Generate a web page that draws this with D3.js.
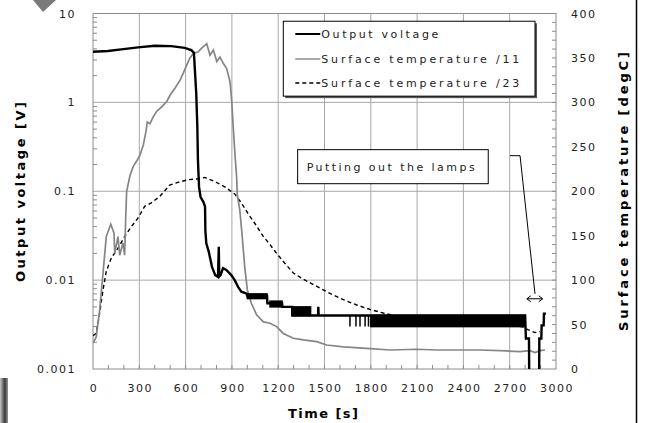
<!DOCTYPE html>
<html lang="en">
<head>
    <meta charset="UTF-8">
    <title>Output voltage and surface temperature</title>
    <script src="https://d3js.org/d3.v7.min.js"></script>
    <style>
        body {
            margin: 0;
            padding: 0;
            background-color: #ffffff;
        }
        svg text {
            font-family: "DejaVu Sans", Arial, sans-serif;
            fill: #222;
        }
        .tick-label {
            font-size: 11px;
            letter-spacing: 1.5px;
        }
        .axis-title {
            font-size: 13px;
            font-weight: bold;
            fill: #000;
        }
        .legend-label {
            font-size: 11px;
        }
    </style>
</head>
<body>
    <div id="chart"></div>

    <script>
        // Output voltage [V] (left, log axis)
        const voltTime = [0, 97, 183, 292, 400, 507, 594, 637, 654, 659, 669, 676, 680, 687, 697, 715, 726, 728, 734, 750, 771, 792, 810, 815, 818, 827, 842, 864, 896, 918, 940, 961, 993, 1000, 1128, 1130, 1225, 1227, 1290, 1292, 1458, 1460, 1462, 2800, 2805, 2825, 2827, 2890, 2892, 2905, 2907, 2920, 2922, 2935];
        const voltValue = [3.71, 3.78, 3.95, 4.16, 4.33, 4.30, 4.11, 3.87, 3.61, 2.51, 1.26, 0.532, 0.224, 0.112, 0.086, 0.076, 0.067, 0.0366, 0.0259, 0.0209, 0.0141, 0.0114, 0.0109, 0.0238, 0.0110, 0.0114, 0.0136, 0.0130, 0.0114, 0.0100, 0.0084, 0.0074, 0.0071, 0.0066, 0.0066, 0.0055, 0.0055, 0.0050, 0.0050, 0.0040, 0.0040, 0.0050, 0.0040, 0.0040, 0.0022, 0.0022, 0.0005, 0.0005, 0.0022, 0.0022, 0.0031, 0.0031, 0.0042, 0.0042];

        // stretches where the voltage flickers between two levels
        const bandStart = [1000, 1147, 1290, 1800];
        const bandEnd = [1128, 1225, 1410, 2800];
        const bandLow = [0.0062, 0.0050, 0.0040, 0.0030];
        const bandHigh = [0.0070, 0.0058, 0.0050, 0.0040];
        const flickerTime = [1665, 1704, 1730, 1763, 1785];

        // Surface temperature /11 [degC] (right axis)
        const temp11Time = [0, 21, 43, 65, 86, 115, 136, 141, 162, 173, 194, 205, 212, 218, 240, 261, 283, 305, 326, 343, 352, 369, 391, 413, 445, 478, 499, 531, 564, 585, 607, 628, 650, 682, 704, 737, 758, 780, 802, 823, 844, 866, 888, 899, 909, 920, 931, 935, 951, 965, 983, 1000, 1026, 1060, 1104, 1147, 1190, 1233, 1298, 1363, 1450, 1514, 1622, 1773, 1924, 2097, 2227, 2378, 2508, 2681, 2767, 2832, 2864, 2896, 2929];
        const temp11Value = [29, 36, 66, 108, 149, 163, 153, 130, 149, 128, 142, 128, 170, 200, 218, 228, 234, 241, 252, 267, 278, 276, 284, 290, 295, 301, 308, 316, 325, 333, 342, 350, 355, 357, 361, 366, 353, 359, 346, 351, 344, 338, 323, 301, 271, 241, 215, 196, 179, 153, 115, 89, 74, 61, 53, 51.5, 47.7, 40, 34.6, 32.7, 30.8, 27, 25, 23.3, 21.4, 22.2, 21.4, 21.4, 21.4, 20.3, 19.5, 20.6, 18.4, 20.6, 21.4];

        // Surface temperature /23 [degC] (right axis)
        const temp23Time = [0, 21, 43, 65, 86, 119, 162, 205, 248, 292, 335, 378, 432, 497, 551, 616, 680, 724, 789, 853, 918, 961, 1004, 1048, 1104, 1147, 1190, 1233, 1298, 1363, 1450, 1536, 1622, 1709, 1795, 1881, 2000, 2200, 2400, 2600, 2778, 2821, 2864, 2896];
        const temp23Value = [37.5, 40, 63, 89, 110, 125, 136, 149, 160, 170, 183, 187, 194, 207, 210, 213, 214, 215.5, 211, 205, 197, 187, 175, 164, 149, 140, 130, 121, 108, 101, 93, 85, 78, 72, 67, 63, 58, 54, 52, 50, 47.7, 44, 41, 42];

        const xTicks = [0, 300, 600, 900, 1200, 1500, 1800, 2100, 2400, 2700, 3000];
        const leftTicks = [0.001, 0.01, 0.1, 1, 10];
        const leftTickLabels = ["0.001", "0.01", "0.1", "1", "10"];
        const rightTicks = [0, 50, 100, 150, 200, 250, 300, 350, 400];
        const legendLabels = ["Output voltage", "Surface temperature /11", "Surface temperature /23"];
        const noteText = "Putting out the lamps";

        const width = 645;
        const height = 423;
        const plot = { left: 93, right: 556, top: 13.5, bottom: 369 };

        const svg = d3.select("#chart")
            .append("svg")
            .attr("width", width)
            .attr("height", height);

        const x = d3.scaleLinear().domain([0, 3000]).range([plot.left, plot.right]);
        const yL = d3.scaleLog().domain([0.001, 10]).range([plot.bottom, plot.top]);
        const yR = d3.scaleLinear().domain([0, 400]).range([plot.bottom, plot.top]);

        // scan artefacts round the figure
        const defs = svg.append("defs");
        const grad = defs.append("linearGradient").attr("id", "edge");
        grad.append("stop").attr("offset", "0%").attr("stop-color", "#c8c8c8");
        grad.append("stop").attr("offset", "60%").attr("stop-color", "#3a3a3a");
        grad.append("stop").attr("offset", "100%").attr("stop-color", "#9a9a9a");
        svg.append("rect").attr("x", 0).attr("y", 378).attr("width", 8).attr("height", 45).attr("fill", "url(#edge)");
        svg.append("path").attr("d", "M33,0 L56,0 L43,12 Z").attr("fill", "#7a7a7a");
        svg.append("line").attr("x1", 636.5).attr("x2", 636.5).attr("y1", 0).attr("y2", height)
            .attr("stroke", "#000").attr("stroke-width", 1.5);

        defs.append("clipPath").attr("id", "plot-clip")
            .append("rect")
            .attr("x", plot.left).attr("y", plot.top)
            .attr("width", plot.right - plot.left).attr("height", plot.bottom - plot.top);

        // grid
        const grid = svg.append("g").attr("stroke", "#a8a8a8").attr("stroke-width", 1);
        grid.selectAll(".vgrid")
            .data(xTicks.slice(1, -1))
            .enter()
            .append("line")
            .attr("x1", d => x(d)).attr("x2", d => x(d))
            .attr("y1", plot.top).attr("y2", plot.bottom);
        grid.selectAll(".hgrid")
            .data(leftTicks.slice(1, -1))
            .enter()
            .append("line")
            .attr("x1", plot.left).attr("x2", plot.right)
            .attr("y1", d => yL(d)).attr("y2", d => yL(d));

        // minor ticks
        const minorLeft = [];
        for (let e = -3; e < 1; e++) {
            for (let m = 2; m <= 9; m++) minorLeft.push(m * Math.pow(10, e));
        }
        const ticks = svg.append("g").attr("stroke", "#8c8c8c").attr("stroke-width", 1);
        ticks.selectAll(".lt")
            .data(minorLeft)
            .enter()
            .append("line")
            .attr("x1", plot.left).attr("x2", plot.left + 4)
            .attr("y1", d => yL(d)).attr("y2", d => yL(d));
        ticks.selectAll(".rt")
            .data(d3.range(10, 400, 10))
            .enter()
            .append("line")
            .attr("x1", plot.right - 4).attr("x2", plot.right)
            .attr("y1", d => yR(d)).attr("y2", d => yR(d));
        ticks.selectAll(".bt")
            .data(d3.range(100, 3000, 100))
            .enter()
            .append("line")
            .attr("x1", d => x(d)).attr("x2", d => x(d))
            .attr("y1", plot.bottom - 4).attr("y2", plot.bottom);

        svg.append("rect")
            .attr("x", plot.left).attr("y", plot.top)
            .attr("width", plot.right - plot.left).attr("height", plot.bottom - plot.top)
            .attr("fill", "none").attr("stroke", "#8c8c8c").attr("stroke-width", 1);

        // tick labels
        svg.selectAll(".xl")
            .data(xTicks)
            .enter()
            .append("text")
            .attr("class", "tick-label")
            .attr("x", d => x(d) + 1)
            .attr("y", 392)
            .attr("text-anchor", "middle")
            .text(d => d);
        svg.selectAll(".yl")
            .data(leftTicks)
            .enter()
            .append("text")
            .attr("class", "tick-label")
            .attr("x", 76)
            .attr("y", d => yL(d) + 4)
            .attr("text-anchor", "end")
            .text((d, i) => leftTickLabels[i]);
        svg.selectAll(".yr")
            .data(rightTicks)
            .enter()
            .append("text")
            .attr("class", "tick-label")
            .attr("x", 571)
            .attr("y", d => yR(d) + 4)
            .text(d => d);

        // axis titles
        svg.append("text")
            .attr("class", "axis-title")
            .attr("x", 288).attr("y", 418)
            .attr("textLength", 70).attr("lengthAdjust", "spacing")
            .text("Time [s]");
        svg.append("text")
            .attr("class", "axis-title")
            .attr("transform", "translate(25,192) rotate(-90)")
            .attr("x", -90)
            .attr("textLength", 180).attr("lengthAdjust", "spacing")
            .text("Output voltage [V]");
        svg.append("text")
            .attr("class", "axis-title")
            .attr("transform", "translate(628,192) rotate(-90)")
            .attr("x", -139)
            .attr("textLength", 279).attr("lengthAdjust", "spacing")
            .text("Surface temperature [degC]");

        // data
        const data = svg.append("g").attr("clip-path", "url(#plot-clip)");

        const lineL = d3.line().x(d => x(d[0])).y(d => yL(d[1]));
        const lineR = d3.line().x(d => x(d[0])).y(d => yR(d[1]));

        data.append("path")
            .datum(d3.zip(temp23Time, temp23Value))
            .attr("d", lineR)
            .attr("fill", "none")
            .attr("stroke", "#000")
            .attr("stroke-width", 1.4)
            .attr("stroke-dasharray", "4,3");

        data.append("path")
            .datum(d3.zip(temp11Time, temp11Value))
            .attr("d", lineR)
            .attr("fill", "none")
            .attr("stroke", "#858585")
            .attr("stroke-width", 1.7);

        data.selectAll(".band")
            .data(bandStart)
            .enter()
            .append("rect")
            .attr("x", d => x(d))
            .attr("width", (d, i) => x(bandEnd[i]) - x(d))
            .attr("y", (d, i) => yL(bandHigh[i]))
            .attr("height", (d, i) => yL(bandLow[i]) - yL(bandHigh[i]))
            .attr("fill", "#000")
            .attr("stroke", "#000")
            .attr("stroke-width", 1.5);

        data.selectAll(".flicker")
            .data(flickerTime)
            .enter()
            .append("line")
            .attr("x1", d => x(d)).attr("x2", d => x(d))
            .attr("y1", yL(0.0040)).attr("y2", yL(0.0030))
            .attr("stroke", "#000")
            .attr("stroke-width", 1.5);

        data.append("path")
            .datum(d3.zip(voltTime, voltValue))
            .attr("d", lineL)
            .attr("fill", "none")
            .attr("stroke", "#000")
            .attr("stroke-width", 2.4);

        // annotation
        svg.append("polyline")
            .attr("points", [[2702, 240], [2767, 240], [2864, 84.5]].map(p => [x(p[0]), yR(p[1])].join(",")).join(" "))
            .attr("fill", "none")
            .attr("stroke", "#000")
            .attr("stroke-width", 1);

        const arrowY = yR(79);
        const ax0 = x(2811);
        const ax1 = x(2914);
        svg.append("line")
            .attr("x1", ax0).attr("x2", ax1)
            .attr("y1", arrowY).attr("y2", arrowY)
            .attr("stroke", "#000").attr("stroke-width", 1);
        svg.append("path")
            .attr("d", `M${ax0 + 4},${arrowY - 3} L${ax0},${arrowY} L${ax0 + 4},${arrowY + 3} M${ax1 - 4},${arrowY - 3} L${ax1},${arrowY} L${ax1 - 4},${arrowY + 3}`)
            .attr("fill", "none").attr("stroke", "#000").attr("stroke-width", 1);

        svg.append("rect")
            .attr("x", x(1326)).attr("y", yR(246.8))
            .attr("width", x(2561) - x(1326))
            .attr("height", yR(208.5) - yR(246.8))
            .attr("fill", "#fff").attr("stroke", "#000").attr("stroke-width", 1);
        svg.append("text")
            .attr("class", "legend-label")
            .attr("x", x(1326) + 9)
            .attr("y", (yR(246.8) + yR(208.5)) / 2 + 4)
            .attr("textLength", 168).attr("lengthAdjust", "spacing")
            .text(noteText);

        // legend
        const lgX0 = x(1233), lgX1 = x(2864);
        const lgY0 = yR(391.3), lgY1 = yR(307);
        svg.append("rect")
            .attr("x", lgX0 + 2).attr("y", lgY0 + 2)
            .attr("width", lgX1 - lgX0).attr("height", lgY1 - lgY0)
            .attr("fill", "#555");
        svg.append("rect")
            .attr("x", lgX0).attr("y", lgY0)
            .attr("width", lgX1 - lgX0).attr("height", lgY1 - lgY0)
            .attr("fill", "#fff").attr("stroke", "#000").attr("stroke-width", 1);

        const legendStyle = [
            { stroke: "#000", width: 2, dash: null },
            { stroke: "#858585", width: 1.4, dash: null },
            { stroke: "#000", width: 1.4, dash: "4,3" }
        ];
        const legendRowY = [34, 59, 83];
        const legendTextLen = [117, 198, 198];
        legendLabels.forEach((label, i) => {
            svg.append("line")
                .attr("x1", lgX0 + 12).attr("x2", lgX0 + 37)
                .attr("y1", legendRowY[i]).attr("y2", legendRowY[i])
                .attr("stroke", legendStyle[i].stroke)
                .attr("stroke-width", legendStyle[i].width)
                .attr("stroke-dasharray", legendStyle[i].dash);
            svg.append("text")
                .attr("class", "legend-label")
                .attr("x", lgX0 + 38)
                .attr("y", legendRowY[i] + 4)
                .attr("textLength", legendTextLen[i]).attr("lengthAdjust", "spacing")
                .text(label);
        });
    </script>
</body>
</html>
